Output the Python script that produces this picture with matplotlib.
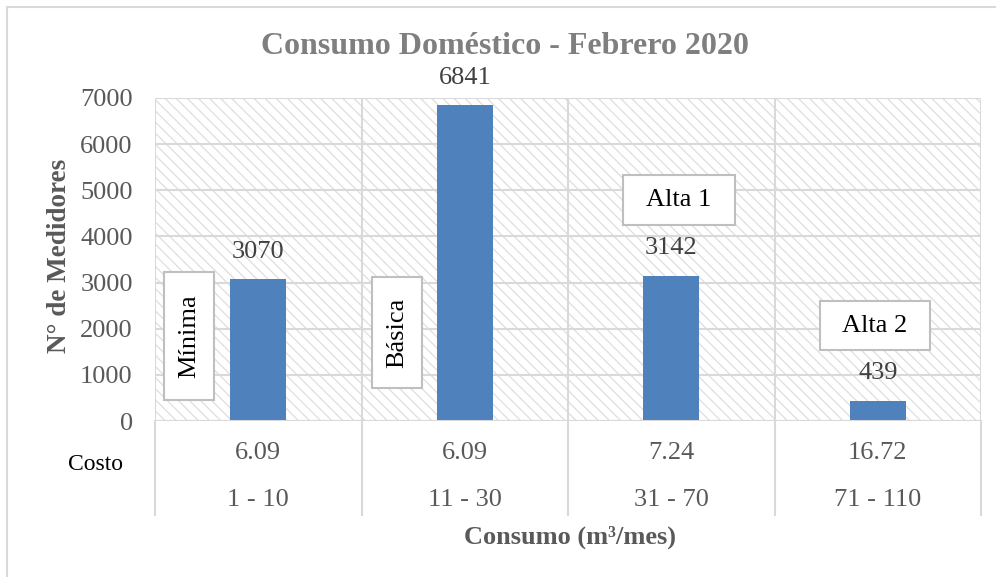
import numpy as np
import matplotlib.pyplot as plt
from matplotlib.patches import Rectangle

# consumo domestico, febrero 2020
rangos = ['1 - 10', '11 - 30', '31 - 70', '71 - 110']
costos = ['6.09', '6.09', '7.24', '16.72']
medidores = [3070, 6841, 3142, 439]
categorias = ['Mínima', 'Básica', 'Alta 1', 'Alta 2']

W, H = 996, 577


def fx(x):
    return x / W


def fy(y):
    return 1 - y / H


plt.rcParams['font.family'] = ['Liberation Serif', 'DejaVu Serif']
plt.rcParams['hatch.color'] = '#dedede'
plt.rcParams['hatch.linewidth'] = 0.9

fig = plt.figure(figsize=(W / 100, H / 100), dpi=100)

# marco exterior del grafico
fig.patches.append(Rectangle((fx(7), fy(600)), fx(1100), fy(7) - fy(600),
                             transform=fig.transFigure, fill=False,
                             edgecolor='#d9d9d9', linewidth=1.5, zorder=0))

left, right, top, bottom = 155, 981, 98, 421
ax = fig.add_axes([fx(left), fy(bottom), fx(right) - fx(left), fy(top) - fy(bottom)])


def ypx(y):
    # fila de la tabla (pixeles) en coordenadas del eje
    return -(y - bottom) / (bottom - top)


x = np.arange(len(rangos))
ax.set_xlim(-0.5, len(rangos) - 0.5)
ax.set_ylim(0, 7000)

# fondo rayado
ax.add_patch(Rectangle((0, 0), 1, 1, transform=ax.transAxes, facecolor='white',
                       hatch='\\\\\\', edgecolor='#dedede', linewidth=0, zorder=0))

ax.bar(x, medidores, width=0.27, color='#4f81bd', zorder=3)
for xi, v in zip(x, medidores):
    ax.annotate(str(v), (xi, v), xytext=(0, 20), textcoords='offset points',
                ha='center', va='center', fontsize=19, color='#404040')

ax.set_yticks(np.arange(0, 7001, 1000))
ax.set_xticks([])
ax.tick_params(axis='y', length=0, labelsize=19, labelcolor='#595959', pad=16)
ax.grid(axis='y', color='#d9d9d9', linewidth=1.5, zorder=1)
for b in np.arange(-0.5, len(rangos), 1.0):
    ax.axvline(b, color='#d9d9d9', linewidth=1.5, zorder=1)
for s in ax.spines.values():
    s.set_visible(False)
ax.axhline(0, color='#d9d9d9', linewidth=2.2, zorder=4)

# tabla de categorias bajo el eje
tb = ax.get_xaxis_transform()
for b in np.arange(-0.5, len(rangos), 1.0):
    ax.plot([b, b], [0, ypx(515)], transform=tb, color='#d9d9d9', linewidth=1.5,
            clip_on=False, zorder=1)
for xi, c, r in zip(x, costos, rangos):
    ax.text(xi, ypx(453), c, transform=tb, ha='center', va='center',
            fontsize=19, color='#595959')
    ax.text(xi, ypx(500), r, transform=tb, ha='center', va='center',
            fontsize=19, color='#595959')
fig.text(fx(95), fy(465), 'Costo', ha='center', va='center', fontsize=17, color='black')

fig.text(fx(505), fy(47), 'Consumo Doméstico - Febrero 2020', ha='center', va='center',
         fontsize=23, fontweight='bold', color='#7f7f7f')
fig.text(fx(570), fy(537), 'Consumo (m³/mes)', ha='center', va='center',
         fontsize=19, fontweight='bold', color='#595959')
fig.text(fx(60), fy(256), 'N° de Medidores', ha='center', va='center', rotation=90,
         fontsize=19.5, fontweight='bold', color='#595959')

# recuadros con el tipo de tarifa
cajas = [(164, 272, 214, 400, 90), (372, 277, 422, 388, 90),
         (623, 175, 735, 225, 0), (820, 301, 930, 350, 0)]
for nombre, (x0, y0, x1, y1, rot) in zip(categorias, cajas):
    fig.patches.append(Rectangle((fx(x0), fy(y1)), fx(x1) - fx(x0), fy(y0) - fy(y1),
                                 transform=fig.transFigure, facecolor='white',
                                 edgecolor='#bfbfbf', linewidth=1.5, zorder=5))
    fig.text(fx((x0 + x1) / 2), fy((y0 + y1) / 2), nombre, ha='center', va='center',
             rotation=rot, fontsize=19, color='black', zorder=6)

fig.savefig('out.png', dpi=100)
